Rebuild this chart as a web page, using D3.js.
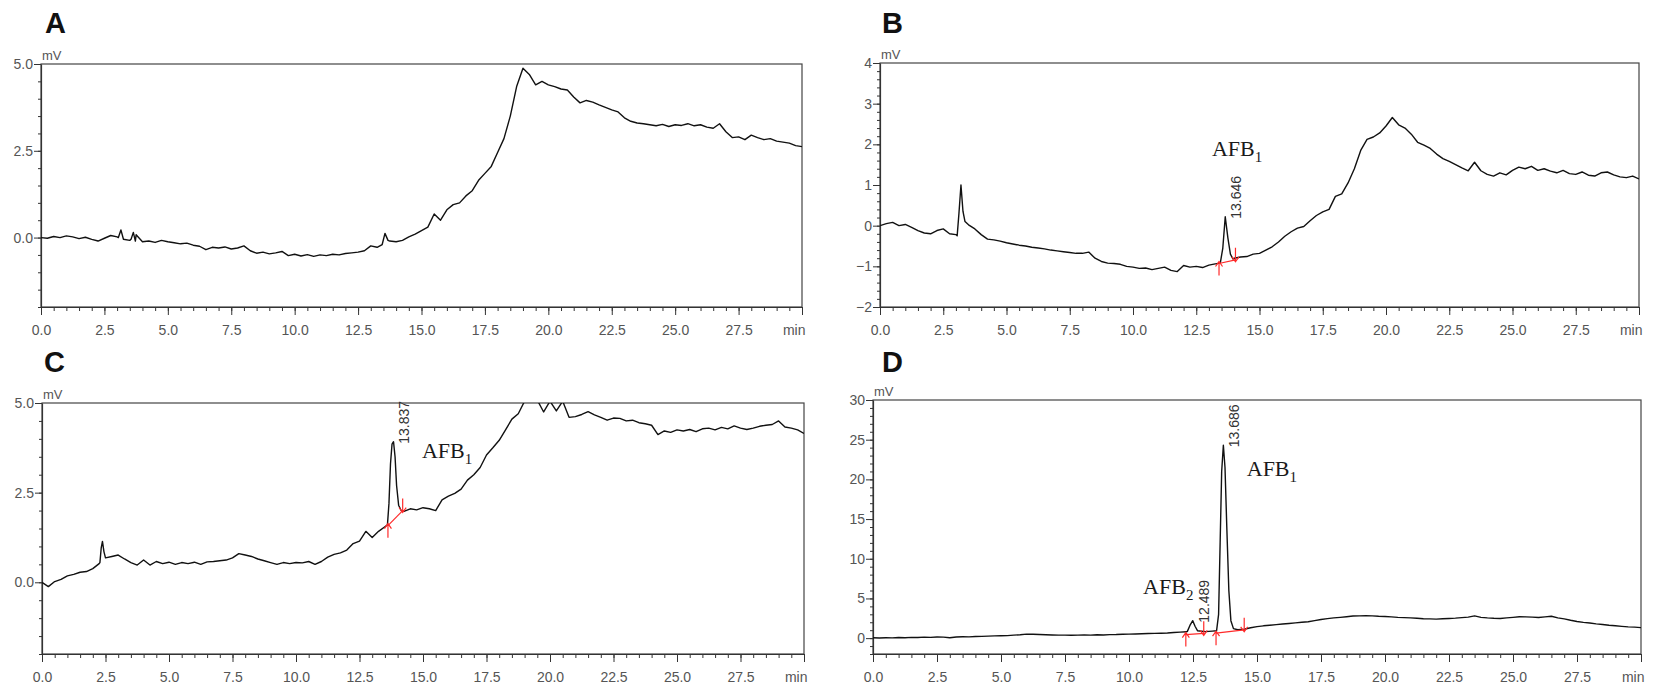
<!DOCTYPE html>
<html lang="en">
<head>
<meta charset="utf-8">
<title>HPLC chromatograms A-D</title>
<script src="https://cdn.jsdelivr.net/npm/d3@7/dist/d3.min.js"></script>
<style>
  body { margin: 0; background: #fff; }
  .tick_text { font-family: "Liberation Sans Narrow", "Liberation Sans", Arial, sans-serif; font-size: 14px; fill: #555; }
  .unit_text { font-family: "Liberation Sans Narrow", "Liberation Sans", Arial, sans-serif; font-size: 13px; fill: #555; }
  .panel_label { font-family: "Liberation Sans", Arial, sans-serif; font-size: 29px; font-weight: bold; fill: #111; }
  .rt_text { font-family: "Liberation Sans Narrow", "Liberation Sans", sans-serif; font-size: 14px; fill: #333; }
  .afb_text { font-family: "Liberation Serif", "Times New Roman", serif; font-size: 22px; fill: #1a1a1a; }
</style>
</head>
<body>
<svg id="chart" width="1654" height="693"></svg>
<script>
// sampling grid of the detector trace (minutes)
var minutes = d3.range(0, 30.001, 0.25);

// trace values in mV on that grid
var signalA = [0.00,-0.02,0.03,0.00,0.05,0.02,-0.03,0.01,-0.05,-0.10,-0.02,0.06,0.02,
  0.10,-0.08,0.08,-0.12,-0.10,-0.14,-0.08,-0.12,-0.15,-0.18,-0.16,-0.22,
  -0.25,-0.35,-0.28,-0.30,-0.27,-0.33,-0.30,-0.24,-0.38,-0.45,-0.42,-0.47,
  -0.44,-0.40,-0.52,-0.48,-0.53,-0.49,-0.54,-0.50,-0.52,-0.48,-0.50,-0.46,
  -0.44,-0.42,-0.38,-0.24,-0.28,-0.05,-0.10,-0.12,-0.08,0.02,0.10,0.20,
  0.30,0.68,0.50,0.80,0.95,1.00,1.20,1.35,1.65,1.85,2.05,2.45,
  2.85,3.50,4.35,4.88,4.70,4.40,4.50,4.40,4.35,4.28,4.25,4.05,
  3.88,3.95,3.90,3.82,3.75,3.68,3.62,3.45,3.35,3.30,3.28,3.25,
  3.22,3.26,3.20,3.25,3.23,3.28,3.22,3.25,3.18,3.15,3.28,3.05,
  2.88,2.90,2.82,2.95,2.88,2.82,2.85,2.78,2.75,2.72,2.65,2.62];

var signalB = [0.00,0.05,0.08,0.00,0.03,-0.04,-0.12,-0.18,-0.20,-0.12,-0.08,-0.20,-0.22,
  0.10,0.02,-0.08,-0.22,-0.33,-0.35,-0.38,-0.42,-0.45,-0.48,-0.50,-0.53,
  -0.55,-0.57,-0.60,-0.62,-0.64,-0.66,-0.68,-0.68,-0.65,-0.80,-0.88,-0.92,
  -0.93,-0.95,-1.00,-1.02,-1.05,-1.04,-1.08,-1.05,-1.02,-1.10,-1.13,-0.98,
  -1.02,-1.00,-1.03,-0.97,-0.94,-0.88,-0.84,-0.80,-0.77,-0.76,-0.70,-0.68,
  -0.60,-0.52,-0.40,-0.26,-0.15,-0.06,-0.02,0.12,0.25,0.34,0.40,0.72,
  0.78,1.05,1.40,1.85,2.12,2.18,2.28,2.45,2.66,2.48,2.40,2.25,
  2.05,1.98,1.90,1.76,1.65,1.58,1.50,1.42,1.35,1.56,1.35,1.26,
  1.22,1.30,1.25,1.36,1.44,1.40,1.46,1.36,1.40,1.34,1.30,1.36,
  1.28,1.26,1.32,1.24,1.22,1.30,1.32,1.25,1.20,1.18,1.22,1.15];

var signalC = [0.00,-0.12,0.02,0.08,0.18,0.22,0.28,0.30,0.38,0.52,0.67,0.72,0.76,
  0.65,0.55,0.48,0.62,0.48,0.58,0.52,0.56,0.50,0.55,0.52,0.56,
  0.50,0.57,0.58,0.60,0.62,0.68,0.80,0.76,0.72,0.65,0.60,0.55,
  0.50,0.55,0.52,0.55,0.54,0.58,0.50,0.58,0.70,0.78,0.82,0.90,
  1.08,1.15,1.42,1.25,1.42,1.55,3.50,2.40,1.98,2.05,2.02,2.08,
  2.05,2.00,2.30,2.40,2.48,2.60,2.85,3.00,3.20,3.55,3.75,3.96,
  4.25,4.55,4.70,5.05,5.10,5.08,4.75,5.05,4.78,5.05,4.60,4.62,
  4.68,4.76,4.67,4.60,4.52,4.58,4.57,4.50,4.52,4.45,4.42,4.38,
  4.12,4.22,4.18,4.25,4.22,4.26,4.20,4.28,4.30,4.25,4.32,4.28,
  4.36,4.30,4.26,4.30,4.35,4.38,4.40,4.50,4.33,4.30,4.25,4.15];

var signalD = [0.05,0.02,0.05,0.03,0.08,0.05,0.10,0.08,0.12,0.10,0.15,0.12,0.05,
  0.14,0.18,0.16,0.20,0.22,0.25,0.28,0.30,0.32,0.38,0.42,0.50,
  0.48,0.45,0.42,0.40,0.38,0.38,0.36,0.38,0.40,0.38,0.42,0.40,
  0.44,0.45,0.48,0.50,0.52,0.55,0.58,0.60,0.62,0.65,0.70,0.75,
  0.80,2.00,0.90,0.82,0.88,5.00,15.0,2.00,1.05,1.12,1.30,1.45,
  1.55,1.62,1.70,1.78,1.85,1.92,2.00,2.06,2.20,2.35,2.45,2.55,
  2.62,2.70,2.78,2.80,2.82,2.80,2.75,2.72,2.68,2.62,2.58,2.55,
  2.50,2.45,2.42,2.40,2.45,2.48,2.52,2.58,2.65,2.80,2.62,2.55,
  2.50,2.48,2.55,2.62,2.70,2.68,2.65,2.60,2.68,2.75,2.55,2.42,
  2.25,2.10,1.98,1.90,1.80,1.72,1.62,1.55,1.48,1.42,1.38,1.32];

// finer samples through the narrow peaks
var peakTimesA = [[3.05,3.15,3.25],[3.55,3.64,3.72],[13.45,13.56,13.68]];
var peakValuesA = [[0.00,0.22,-0.05],[-0.05,0.15,-0.10],[-0.20,0.12,-0.08]];
var peakTimesB = [[3.05,3.12,3.20,3.28,3.36],[13.45,13.55,13.646,13.75,13.85,13.95]];
var peakValuesB = [[-0.25,0.30,1.00,0.35,0.10],[-0.92,-0.55,0.22,-0.30,-0.70,-0.82]];
var peakTimesC = [[2.28,2.33,2.38,2.44,2.50],[13.60,13.66,13.72,13.78,13.84,13.90,13.96,14.04,14.14]];
var peakValuesC = [[0.55,0.95,1.14,0.85,0.68],[1.60,2.20,3.30,3.85,3.92,3.50,2.70,2.15,2.00]];
var peakTimesD = [[12.28,12.38,12.49,12.58,12.68],[13.42,13.50,13.56,13.62,13.686,13.75,13.82,13.90,13.98,14.08]];
var peakValuesD = [[0.85,1.60,2.20,1.50,0.92],[0.92,3.0,12.0,21.0,24.3,21.5,14.0,6.0,2.2,1.2]];

// retention times printed above the integrated peaks
var retentionB = [13.646];
var retentionC = [13.837];
var retentionD = [12.489, 13.686];

// integration baselines [start t, start mV, end t, end mV]
var integrationB = [[13.40,-0.93,14.05,-0.84]];
var integrationC = [[13.62,1.58,14.20,2.00]];
var integrationD = [[12.22,0.45,12.92,0.60],[13.40,0.62,14.50,1.05]];

// x ticks
var xMajor = d3.range(0, 30.001, 2.5);
var xMinor = d3.range(0, 30.001, 0.5);

var panels = [
  {key:"A", signal:signalA, pt:peakTimesA, pv:peakValuesA, rt:[], integ:[],
   left:41, right:802, top:64, bottom:307, yDomain:[-2,5], yMajor:[0,2.5,5], yMinor:0.5, fmt:".1f",
   letter:[45,33], afb:[]},
  {key:"B", signal:signalB, pt:peakTimesB, pv:peakValuesB, rt:retentionB, integ:integrationB,
   left:880, right:1639, top:63, bottom:307, yDomain:[-2,4], yMajor:[-2,-1,0,1,2,3,4], yMinor:0.2, fmt:"d",
   letter:[882,33], afb:[{t:13.12, v:1.71, sub:"1"}]},
  {key:"C", signal:signalC, pt:peakTimesC, pv:peakValuesC, rt:retentionC, integ:integrationC,
   left:42, right:804, top:403, bottom:654, yDomain:[-2,5], yMajor:[0,2.5,5], yMinor:0.5, fmt:".1f",
   letter:[44,372], afb:[{t:14.96, v:3.47, sub:"1"}]},
  {key:"D", signal:signalD, pt:peakTimesD, pv:peakValuesD, rt:retentionD, integ:integrationD,
   left:873, right:1641, top:400, bottom:654, yDomain:[-2,30], yMajor:[0,5,10,15,20,25,30], yMinor:1, fmt:"d",
   letter:[882,372], afb:[{t:10.55, v:5.56, sub:"2"}, {t:14.6, v:20.45, sub:"1"}]}
];

var svg = d3.select("#chart");

function buildTrace(p) {
  var pts = [];
  minutes.forEach(function(t, i) {
    var inside = p.pt.some(function(seg) { return t >= seg[0] && t <= seg[seg.length-1]; });
    if (!inside) pts.push([t, p.signal[i]]);
  });
  p.pt.forEach(function(seg, j) {
    seg.forEach(function(t, k) { pts.push([t, p.pv[j][k]]); });
  });
  pts.sort(function(a, b) { return a[0] - b[0]; });
  return pts;
}

panels.forEach(function(p) {
  var x = d3.scaleLinear().domain([0, 30]).range([p.left, p.right]);
  var y = d3.scaleLinear().domain(p.yDomain).range([p.bottom, p.top]);
  var g = svg.append("g").attr("class", "panel_" + p.key);

  svg.append("clipPath").attr("id", "clip" + p.key)
    .append("rect")
    .attr("x", p.left).attr("y", p.top)
    .attr("width", p.right - p.left).attr("height", p.bottom - p.top);

  // frame
  g.append("rect")
    .attr("x", p.left).attr("y", p.top)
    .attr("width", p.right - p.left).attr("height", p.bottom - p.top)
    .attr("fill", "none").attr("stroke", "#444").attr("stroke-width", 1.2);

  // x axis, minor then major
  g.append("g").attr("transform", "translate(0," + p.bottom + ")")
    .call(d3.axisBottom(x).tickValues(xMinor).tickSize(4).tickSizeOuter(0).tickFormat(""))
    .call(function(a) { a.select(".domain").remove(); a.selectAll("line").attr("stroke", "#333"); });
  var xa = g.append("g").attr("transform", "translate(0," + p.bottom + ")")
    .call(d3.axisBottom(x).tickValues(xMajor).tickSize(8).tickSizeOuter(0).tickPadding(10)
      .tickFormat(function(d) { return d === 30 ? "min" : d.toFixed(1); }));
  xa.select(".domain").attr("stroke", "#333").attr("stroke-width", 1.2);
  xa.selectAll("line").attr("stroke", "#333");
  xa.selectAll("text").attr("class", "tick_text").attr("font-size", null).attr("font-family", null)
    .attr("fill", null)
    .filter(function(d) { return d === 30; }).attr("text-anchor", "end").attr("dx", "3");

  // y axis, minor then major
  g.append("g").attr("transform", "translate(" + p.left + ",0)")
    .call(d3.axisLeft(y).tickValues(d3.range(p.yDomain[0], p.yDomain[1] + 1e-6, p.yMinor))
      .tickSize(3).tickSizeOuter(0).tickFormat(""))
    .call(function(a) { a.select(".domain").remove(); a.selectAll("line").attr("stroke", "#333"); });
  var ya = g.append("g").attr("transform", "translate(" + p.left + ",0)")
    .call(d3.axisLeft(y).tickValues(p.yMajor).tickSize(7).tickSizeOuter(0).tickPadding(1)
      .tickFormat(d3.format(p.fmt)));
  ya.select(".domain").attr("stroke", "#333").attr("stroke-width", 1.2);
  ya.selectAll("line").attr("stroke", "#333");
  ya.selectAll("text").attr("class", "tick_text").attr("font-size", null).attr("font-family", null)
    .attr("fill", null);

  g.append("text").attr("class", "unit_text")
    .attr("x", p.left + 1).attr("y", p.top - 4).text("mV");

  g.append("text").attr("class", "panel_label")
    .attr("x", p.letter[0]).attr("y", p.letter[1]).text(p.key);

  // trace
  var line = d3.line().x(function(d) { return x(d[0]); }).y(function(d) { return y(d[1]); });
  g.append("path")
    .datum(buildTrace(p))
    .attr("clip-path", "url(#clip" + p.key + ")")
    .attr("d", line)
    .attr("fill", "none").attr("stroke", "#111").attr("stroke-width", 1.4)
    .attr("stroke-linejoin", "round");

  // integration baselines with start/end arrows
  p.integ.forEach(function(b) {
    var x0 = x(b[0]), y0 = y(b[1]), x1 = x(b[2]), y1 = y(b[3]);
    var red = g.append("g").attr("stroke", "#ff2a2a").attr("stroke-width", 1.2).attr("fill", "none");
    red.append("line").attr("x1", x0).attr("y1", y0).attr("x2", x1).attr("y2", y1);
    red.append("path").attr("d", "M" + x0 + "," + (y0 + 12) + "V" + (y0 - 2) +
      "M" + (x0 - 3.5) + "," + (y0 + 3) + "L" + x0 + "," + (y0 - 2) + "L" + (x0 + 3.5) + "," + (y0 + 3));
    red.append("path").attr("d", "M" + x1 + "," + (y1 - 12) + "V" + (y1 + 2) +
      "M" + (x1 - 3.5) + "," + (y1 - 3) + "L" + x1 + "," + (y1 + 2) + "L" + (x1 + 3.5) + "," + (y1 - 3));
  });

  // retention time labels, rotated, next to each apex
  p.rt.forEach(function(rt) {
    var seg = p.pt.filter(function(s) { return rt >= s[0] && rt <= s[s.length-1]; })[0];
    var j = p.pt.indexOf(seg);
    var apex = d3.max(p.pv[j]);
    var tx = x(rt) + 16, ty = y(apex) + 2;
    g.append("text").attr("class", "rt_text")
      .attr("transform", "translate(" + tx + "," + ty + ") rotate(-90)")
      .text(rt.toFixed(3));
  });

  // compound labels
  p.afb.forEach(function(a) {
    var t = g.append("text").attr("class", "afb_text")
      .attr("x", x(a.t)).attr("y", y(a.v));
    t.append("tspan").text("AFB");
    t.append("tspan").attr("dy", 6).attr("font-size", 15).text(a.sub);
  });
});
</script>
</body>
</html>
